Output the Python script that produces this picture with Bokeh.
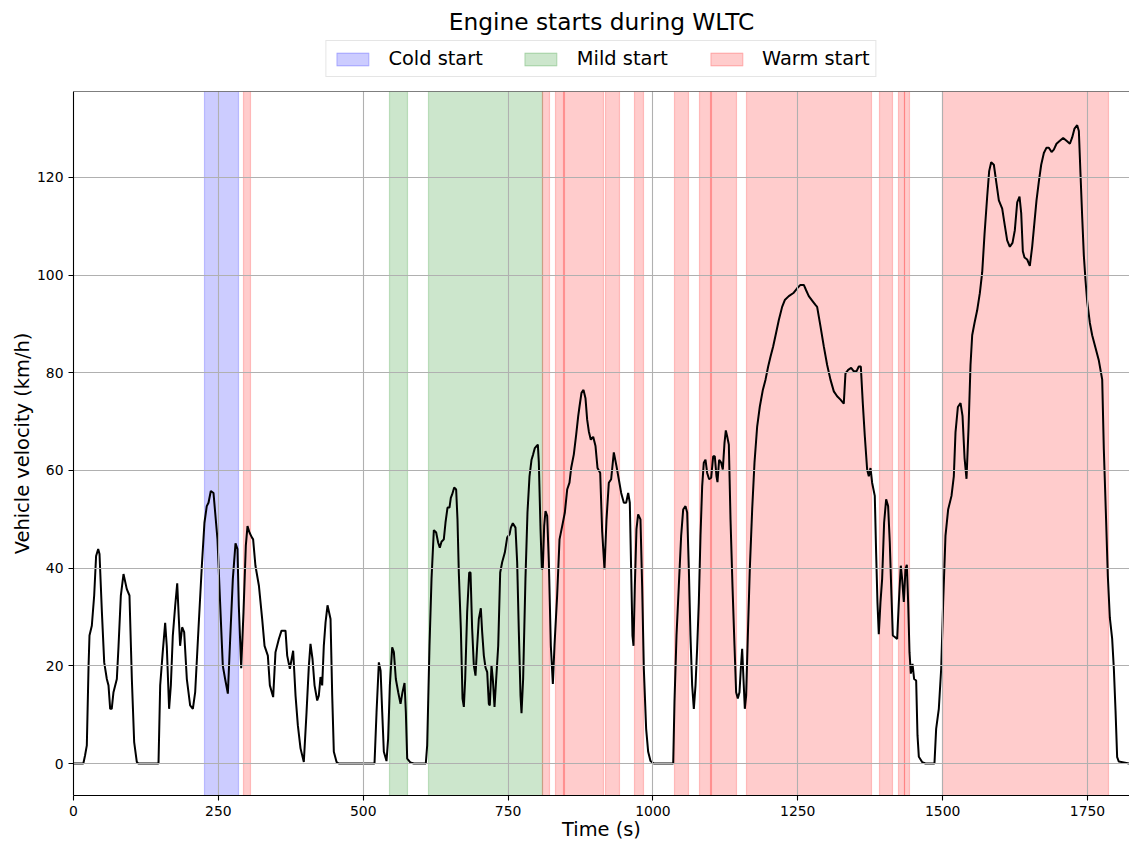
from bokeh.plotting import figure
from bokeh.layouts import column
from bokeh.models import (ColumnDataSource, Range1d, Legend, LegendItem, Span, FixedTicker)
from bokeh.embed import file_html
from bokeh.resources import INLINE

FONT = "DejaVu Sans"

# WLTC vehicle speed trace
time_s = [0, 17, 20, 23, 26, 27.6, 31.6, 35.7, 39, 42.6, 44.9, 49, 53, 57.5, 60.4, 63.3, 66, 69,
          74.8, 77.7, 81.7, 86.3, 92, 96.6, 100.7, 104.7, 109.3, 112, 146.7, 149.6, 154, 158.2,
          161, 165, 168, 171.4, 175.5, 179, 181.8, 184, 187.5, 191, 195.6, 201.3, 206, 210,
          215.7, 221.5, 226, 230, 233, 237, 241.6, 244.5, 248.5, 253, 257.7, 261.7, 266.4,
          270.4, 275, 279.6, 283, 285.3, 289.4, 293.4, 297.4, 300.3, 303.7, 307.8, 310, 314,
          320, 325.6, 329.7, 335.4, 338.9, 344.6, 348.6, 354.4, 359, 365.9, 368.8, 373.4,
          379.1, 383.2, 387.2, 391.8, 397.5, 402.2, 406.2, 409, 412.5, 416, 420.6, 423.4,
          426.3, 429.2, 432, 435, 438.4, 443.6, 446.5, 449.3, 454, 458, 519.5, 523, 527, 530,
          532.8, 535.6, 540.2, 543, 546, 550, 552.9, 556.3, 560.4, 564.4, 567.8, 571.3, 573.6,
          575.9, 581.6, 587.4, 608, 610.4, 614.4, 617.9, 621.9, 625.9, 629.4, 632.2, 635.1,
          639.1, 642, 645.5, 648.9, 651.2, 653.5, 657, 660.4, 662.7, 665, 668.5, 671.4, 673.7,
          676, 679.4, 682.9, 685.2, 688, 690.9, 693.8, 696.7, 699.5, 703, 705.3, 708.2, 711,
          714, 716.8, 718.5, 721.4, 723.7, 726.6, 729.5, 733, 736.4, 739.8, 744.4, 748.5,
          752.5, 754.8, 758.2, 762.8, 765.7, 768.6, 771.5, 773.2, 776, 780, 783.5, 787, 790.5,
          793.3, 796.2, 799, 801.4, 803.1, 806, 808.3, 810, 812.3, 814.6, 817.5, 820.4, 823.8,
          827.3, 830.1, 834.7, 838.8, 843.4, 848, 852, 856, 858.9, 863.5, 867.5, 871, 873.3,
          876.7, 880.2, 883.6, 886.5, 889.4, 892.8, 896.9, 900.9, 904.4, 909, 912.4, 916.4,
          919.9, 923.9, 927.9, 932.5, 937.1, 941.1, 945.2, 949.8, 953.8, 957.3, 960.1, 962.4,
          964.7, 966.5, 968.8, 971.6, 974.5, 978.5, 981.4, 984.3, 988.3, 991.8, 995.8, 1001.5,
          1035, 1037.2, 1040.7, 1044.7, 1048.7, 1052.2, 1056.2, 1059.1, 1062, 1064.8, 1067.7,
          1070.6, 1073.5, 1076.3, 1079.2, 1082.1, 1085, 1087.8, 1090.7, 1093.6, 1097, 1100.5,
          1104, 1106.8, 1109.7, 1111.4, 1114.3, 1117.8, 1120.6, 1123.5, 1125.8, 1128.1, 1131,
          1133.9, 1137.3, 1140.8, 1143.6, 1146.5, 1149.4, 1151.7, 1154, 1156.3, 1158.6, 1160.9,
          1163.8, 1167.2, 1171.3, 1175.3, 1179.9, 1184.5, 1189.7, 1194.3, 1198.9, 1202.9,
          1207.5, 1211.5, 1217.3, 1223, 1227.6, 1234.5, 1243.1, 1248.9, 1254.6, 1260.4, 1264.4,
          1269, 1274.8, 1280.5, 1283.4, 1289.2, 1294.9, 1300.7, 1306.4, 1312.2, 1317.9, 1323.7,
          1329.4, 1332.3, 1337, 1342.1, 1346.7, 1351.3, 1355.3, 1358.8, 1362.2, 1365.7, 1369.7,
          1372.6, 1375.5, 1378.3, 1382.9, 1385.2, 1387.5, 1389.8, 1392.7, 1395.6, 1399, 1402.5,
          1405.9, 1408.8, 1411.7, 1414, 1417.5, 1421.5, 1424.4, 1427.8, 1430.1, 1433, 1435.9,
          1438.2, 1440.5, 1442.8, 1445.1, 1448, 1450.8, 1454.3, 1456.6, 1458.9, 1464.6, 1470.4,
          1485.9, 1488.8, 1493.4, 1497.5, 1500.9, 1504.9, 1509.5, 1515.3, 1519.3, 1522.2,
          1526.3, 1530.9, 1534.3, 1537.8, 1541.2, 1544.7, 1548.1, 1551, 1555, 1559.6, 1564.2,
          1568.3, 1572.3, 1576.9, 1580.3, 1583.8, 1588.4, 1593, 1597, 1602.8, 1607.4, 1611.4,
          1616, 1620.6, 1624.6, 1628.7, 1632.7, 1635.6, 1638.4, 1641.3, 1645.9, 1650.5, 1654.5,
          1658.6, 1662, 1666.1, 1670.1, 1674.7, 1679.3, 1683.3, 1688, 1691.9, 1696.5, 1702.3,
          1708, 1713.8, 1719.6, 1723.6, 1727.6, 1732.2, 1735.1, 1738, 1740.9, 1743.7, 1746.6,
          1749.5, 1754.1, 1758.1, 1763.9, 1769.6, 1775.4, 1778.2, 1781.7, 1785.1, 1788.6,
          1792.6, 1795.5, 1798.4, 1801.2, 1804.1, 1822]

speed_kmh = [0, 0, 1.7, 3.7, 20, 26.2, 28.2, 34.4, 42.5, 43.9, 42.9, 31, 20.7, 17.3, 16, 11.2,
             11.2, 14.6, 17.3, 24, 34.4, 38.8, 35.7, 34.4, 17.3, 4.4, 0.3, 0, 0, 16, 22.8, 28.8,
             24, 11.2, 16, 26.2, 32.3, 36.9, 29.6, 24.1, 27.9, 26.9, 17.3, 11.9, 11.2, 14.6,
             27.6, 40.5, 49.3, 52.7, 53.4, 55.8, 55.4, 51.4, 45.9, 33, 20, 17.3, 14.3, 25.5,
             37.8, 45.1, 43.9, 32.3, 19.5, 31, 44.6, 48.6, 47.3, 46.3, 45.9, 40.5, 36.4, 29.6,
             24.1, 22.1, 16, 13.6, 22.8, 25.5, 27.2, 27.2, 22.1, 19.4, 23.1, 13.9, 7.8, 3.1,
             0.3, 10.5, 20, 24.5, 21.4, 16, 12.9, 13.9, 17.7, 16, 24.1, 28.9, 32.4, 29.6, 13.9,
             2.4, 0.3, 0, 0, 10.5, 20.7, 19, 10.5, 2.4, 0.5, 5.1, 16, 23.8, 22.8, 17.3, 14.6,
             12.2, 14.6, 16.5, 10.5, 1, 0.2, 0, 0, 3.7, 24.1, 37.8, 47.8, 47.3, 45.2, 44.2,
             45.4, 45.9, 49.3, 52.4, 52.4, 54.4, 55.1, 56.5, 56.1, 50, 39.1, 27.6, 13.3, 11.6,
             17.3, 31, 39.1, 39.1, 27.6, 20.1, 18, 24.1, 29.6, 31.8, 26.9, 22.1, 19.7, 18.7,
             12.2, 11.9, 20.1, 17.3, 11.6, 17.3, 24.1, 39.1, 41.2, 43.2, 46.3, 46.9, 48.3, 49.2,
             48.3, 41.2, 26.9, 13.9, 10.3, 17.3, 37.8, 51.4, 58.8, 62.2, 63.3, 64.6, 65, 65.3,
             61.6, 48, 39.8, 40.1, 48.6, 51.7, 50.7, 41.2, 24.1, 16.3, 24.1, 34.4, 45.9, 48.6,
             51.4, 56.1, 57.5, 60.5, 63.3, 67.3, 71.1, 73.1, 75.9, 76.5, 74.8, 70.4, 68, 66.3,
             66.9, 65, 60.5, 59.5, 47.5, 39.8, 50, 57.5, 58.2, 63.7, 60.9, 58.2, 55.4, 53.4,
             53.4, 55.4, 53.4, 39.8, 26.2, 24.1, 36.4, 48, 51, 50, 36.4, 19.4, 7.1, 2.4, 0.5, 0,
             0, 12.6, 26.2, 36.4, 46.6, 52, 52.7, 51.4, 39.8, 26.2, 16, 11.2, 16, 23.5, 33,
             46.6, 56.8, 61.6, 62.2, 59.5, 58.2, 58.5, 62.9, 62.9, 58.8, 57.6, 62.2, 61.6, 60.2,
             65.6, 68.2, 67, 65.3, 50, 36.4, 24.1, 14.6, 13.3, 14.6, 19.4, 23.5, 17.3, 11.2,
             13.9, 26.2, 39.8, 52, 61.6, 69, 73.1, 76.5, 78.6, 81.3, 83.3, 85.4, 87.6, 90.8,
             93.5, 94.9, 95.7, 96.4, 97.3, 98, 98, 96.9, 95.7, 94.8, 93.9, 93.5, 89.5, 85.4,
             81.6, 78.6, 76.2, 75.2, 74.5, 73.7, 79.9, 80.6, 81, 80.3, 80.3, 81.3, 81.3, 73.8,
             67, 60.2, 58.8, 60.5, 57.5, 54.8, 43.2, 33, 26.5, 33, 37.8, 49.3, 54.1, 52.7, 45.2,
             34.4, 26.2, 25.9, 25.5, 33, 40.5, 37.8, 33.1, 39.8, 40.7, 33, 22.8, 18.4, 20.4,
             17.3, 17, 5.8, 1.4, 0.3, 0, 0, 7.1, 11.2, 19.4, 33, 46.6, 52, 54.8, 58.8, 67.8,
             73, 73.8, 71.2, 62.6, 58.3, 68.7, 81.6, 87.7, 90.2, 92.8, 96.3, 100.6, 108.4,
             116.1, 121.3, 123.1, 122.6, 118.7, 115.3, 113.6, 110.1, 107.1, 105.8, 106.6, 109.2,
             114.9, 116.1, 112.7, 104.9, 103.6, 103.2, 101.9, 105.8, 111, 115.3, 119.2, 122.6,
             125, 126.1, 126.1, 125.2, 125.7, 126.9, 127.5, 128.1, 127.5, 126.9, 128.2, 130,
             130.7, 129.5, 120.5, 111.8, 104, 98.9, 94.6, 90.2, 87.7, 85.1, 82.5, 78.6, 64.3,
             51.4, 38.4, 29.8, 25.5, 19.4, 10.8, 1.3, 0.4, 0]

# Engine start windows (s)
cold_start = [226]
cold_end = [284]
mild_start = [546, 613]
mild_end = [577, 810]
warm_start = [294, 810, 832, 846, 918, 968, 1037, 1080, 1100, 1162, 1391, 1424, 1434, 1500]
warm_end = [306, 822, 848, 915, 943, 983, 1062, 1101, 1144, 1377, 1413, 1435, 1443, 1787]

categories = ["Cold start", "Mild start", "Warm start"]
category_colors = ["blue", "green", "red"]

x_ticks = [0, 250, 500, 750, 1000, 1250, 1500, 1750]
y_ticks = [0, 20, 40, 60, 80, 100, 120]
y_lo, y_hi = -6.55, 137.6

STRIP_STYLE = dict(fill_alpha=0.2, line_alpha=0.2, line_width=1.2)

window_sources = [ColumnDataSource(dict(x0=s, x1=e))
                  for s, e in [(cold_start, cold_end), (mild_start, mild_end),
                               (warm_start, warm_end)]]

# ---- header: title and legend (its strips lie outside the header's 0..1 view) ----
head = figure(width=1129, height=89, output_backend="svg", toolbar_location=None,
              x_range=Range1d(0, 1), y_range=Range1d(0, 1),
              x_axis_location=None, y_axis_location=None,
              min_border_left=73, min_border_right=0, min_border_top=0, min_border_bottom=0,
              title="Engine starts during WLTC")
head.outline_line_color = None
head.grid.visible = False
head.title.align = "center"
head.title.text_font = FONT
head.title.text_font_size = "23.3px"
head.title.text_font_style = "normal"
head.title.text_color = "black"

key_items = []
for name, color, src in zip(categories, category_colors, window_sources):
    key = head.vstrip(x0="x0", x1="x1", source=src, fill_color=color, line_color=color,
                      **STRIP_STYLE)
    key_items.append(LegendItem(label=name, renderers=[key]))

legend = Legend(items=key_items, orientation="horizontal", location="bottom_center",
                label_text_font=FONT, label_text_font_size="19.4px", label_text_color="black",
                glyph_width=40, glyph_height=16, label_standoff=16, spacing=38,
                padding=6, margin=12, border_line_color="#cccccc", border_line_width=1.1,
                background_fill_alpha=0.8)
head.add_layout(legend)

# ---- main chart ----
p = figure(width=1129, height=754, output_backend="svg", toolbar_location=None,
           x_range=Range1d(0, 1822.5), y_range=Range1d(y_lo, y_hi),
           min_border_left=73, min_border_right=0, min_border_top=2, min_border_bottom=46)
p.outline_line_color = None
p.background_fill_color = "white"
p.border_fill_color = "white"

for color, src in zip(category_colors, window_sources):
    r = p.vstrip(x0="x0", x1="x1", source=src, fill_color=color, line_color=color,
                 **STRIP_STYLE)
    r.level = "underlay"

p.line(time_s, speed_kmh, line_color="black", line_width=2.0)

for grid in (p.xgrid, p.ygrid):
    grid.grid_line_color = "#b0b0b0"
    grid.grid_line_width = 1.1
    grid.level = "glyph"
p.xgrid.ticker = FixedTicker(ticks=x_ticks)
p.ygrid.ticker = FixedTicker(ticks=y_ticks)

p.xaxis.ticker = FixedTicker(ticks=x_ticks)
p.yaxis.ticker = FixedTicker(ticks=y_ticks)
p.xaxis.axis_label = "Time (s)"
p.yaxis.axis_label = "Vehicle velocity (km/h)"
for ax in (p.xaxis[0], p.yaxis[0]):
    ax.axis_label_text_font = FONT
    ax.axis_label_text_font_size = "19.4px"
    ax.axis_label_text_font_style = "normal"
    ax.axis_label_text_color = "black"
    ax.major_label_text_font = FONT
    ax.major_label_text_font_size = "13.9px"
    ax.major_label_text_color = "black"
    ax.axis_line_color = "black"
    ax.axis_line_width = 1.1
    ax.major_tick_line_color = "black"
    ax.major_tick_line_width = 1.1
    ax.major_tick_out = 5
    ax.major_tick_in = 0
    ax.minor_tick_line_color = None
p.xaxis.major_label_standoff = 5
p.xaxis.axis_label_standoff = -1
p.yaxis.major_label_standoff = 5
p.yaxis.axis_label_standoff = 0

# top frame edge
p.add_layout(Span(location=y_hi, dimension="width", line_color="black", line_width=1.1))

page = column(head, p, spacing=0)
open("out.html", "w").write(file_html(page, INLINE))
